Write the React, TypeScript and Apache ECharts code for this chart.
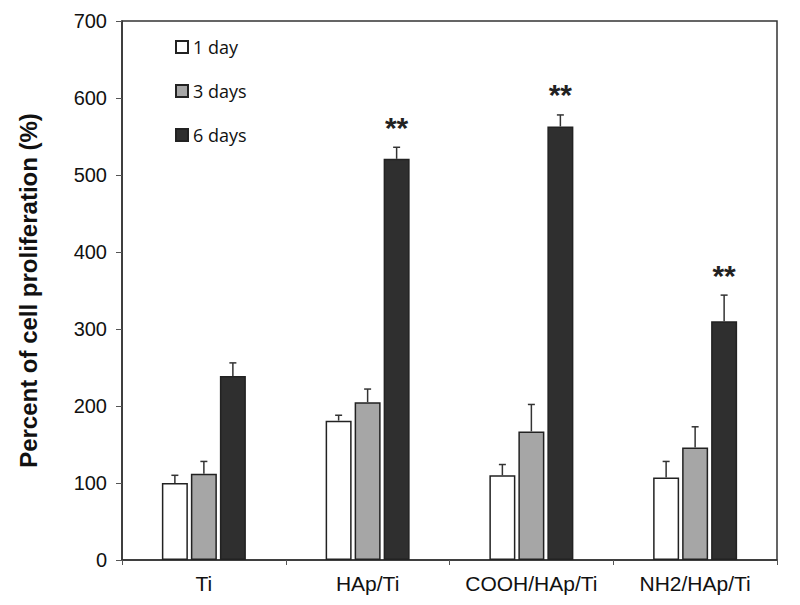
import React, { useEffect, useRef } from "react";
import * as echarts from "echarts";

const categories = ["Ti", "HAp/Ti", "COOH/HAp/Ti", "NH2/HAp/Ti"];
const seriesNames = ["1 day", "3 days", "6 days"];
const day1 = [100, 181, 110, 107];
const day3 = [112, 205, 167, 146];
const day6 = [239, 521, 563, 310];
const err1 = [10, 7, 14, 21];
const err3 = [16, 17, 35, 27];
const err6 = [17, 15, 15, 34];
const significance = ["", "**", "**", "**"];
const yTicks = [0, 100, 200, 300, 400, 500, 600, 700];

const colors = ["#ffffff", "#a6a6a6", "#2f2f2f"];
const BAR_W = 26;
const GAP = 3;

export default function App() {
  const ref = useRef<HTMLDivElement>(null);
  useEffect(() => {
    if (!ref.current) return;
    const chart = echarts.init(ref.current, null, { renderer: "svg" });
    const values = [day1, day3, day6];
    const errs = [err1, err3, err6];
    const errData: number[][] = [];
    values.forEach((arr, s) =>
      arr.forEach((v, c) => errData.push([c, v, errs[s][c], s]))
    );
    const option: any = {
      animation: false,
      backgroundColor: "#ffffff",
      grid: {
        left: 122,
        top: 21,
        right: 23,
        bottom: 45,
        show: true,
        borderColor: "#333",
        borderWidth: 1.5,
        backgroundColor: "transparent",
      },
      legend: {
        orient: "vertical",
        left: 170,
        top: 33,
        itemWidth: 12,
        itemHeight: 12,
        itemGap: 26,
        icon: "rect",
        data: seriesNames,
        textStyle: {
          fontFamily: "'Open Sans', sans-serif",
          fontSize: 18,
          color: "#111",
          lineHeight: 14,
        },
      },
      xAxis: {
        type: "category",
        data: categories,
        boundaryGap: true,
        axisLine: { lineStyle: { color: "#333", width: 1.5 } },
        axisTick: { show: true, length: 5, lineStyle: { color: "#555" } },
        axisLabel: {
          interval: 0,
          margin: 13,
          fontFamily: "Arial, 'Liberation Sans', sans-serif",
          fontSize: 21,
          color: "#111",
        },
      },
      yAxis: {
        type: "value",
        min: 0,
        max: 700,
        interval: 100,
        name: "Percent of cell proliferation (%)",
        nameLocation: "middle",
        nameRotate: 90,
        nameGap: 82,
        nameTextStyle: {
          fontFamily: "Arial, 'Liberation Sans', sans-serif",
          fontSize: 24,
          fontWeight: "bold",
          color: "#111",
        },
        axisLine: { show: true, lineStyle: { color: "#333", width: 1.5 } },
        axisTick: { show: true, length: 6, lineStyle: { color: "#555" } },
        splitLine: { show: false },
        axisLabel: {
          margin: 15,
          fontFamily: "Arial, 'Liberation Sans', sans-serif",
          fontSize: 20,
          color: "#111",
          formatter: (v: number) => (yTicks.includes(v) ? String(v) : ""),
        },
      },
      series: [
        ...values.map((arr, i) => ({
          name: seriesNames[i],
          type: "bar",
          data: arr,
          barWidth: BAR_W,
          barGap: `${(GAP / BAR_W) * 100}%`,
          itemStyle: {
            color: colors[i],
            borderColor: "#222",
            borderWidth: 1.5,
          },
        })),
        {
          type: "custom",
          name: "err",
          data: errData,
          z: 10,
          renderItem: (params: any, api: any) => {
            const c = api.value(0);
            const v = api.value(1);
            const e = api.value(2);
            const s = api.value(3);
            const base = api.coord([c, v]);
            const top = api.coord([c, v + e]);
            const x = base[0] + (s - 1) * (BAR_W + GAP);
            const children: any[] = [
              {
                type: "line",
                shape: { x1: x, y1: base[1], x2: x, y2: top[1] },
                style: { stroke: "#333", lineWidth: 1.5 },
              },
              {
                type: "line",
                shape: { x1: x - 3.5, y1: top[1], x2: x + 3.5, y2: top[1] },
                style: { stroke: "#333", lineWidth: 1.5 },
              },
            ];
            const sig = significance[c];
            if (s === 2 && sig) {
              children.push({
                type: "text",
                style: {
                  x: x,
                  y: top[1] - 20,
                  text: sig,
                  fontSize: 30,
                  fontWeight: "bold",
                  fontFamily: "Arial, 'Liberation Sans', sans-serif",
                  fill: "#222",
                  align: "center",
                  verticalAlign: "middle",
                },
              });
            }
            return { type: "group", children };
          },
        },
      ],
    };
    chart.setOption(option);
    return () => chart.dispose();
  }, []);
  return (
    <div
      ref={ref}
      style={{ position: "fixed", left: 0, top: 0, width: 800, height: 605 }}
    />
  );
}
